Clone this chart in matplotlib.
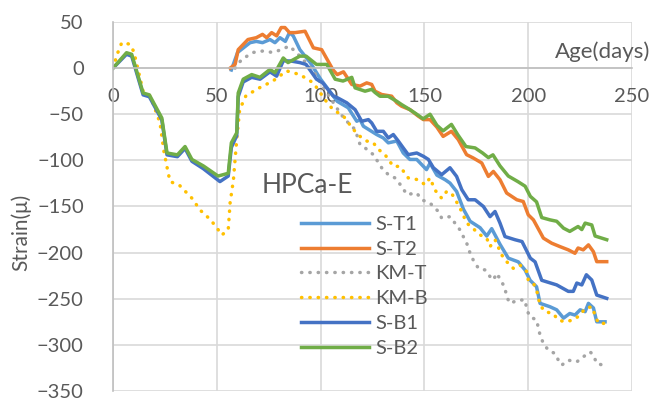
import matplotlib
matplotlib.use("Agg")
import matplotlib.pyplot as plt

plt.rcParams['font.family'] = ['Lato', 'DejaVu Sans']

# ---- data (age in days, strain in micro) ----
st1_days = [57, 60, 66, 69, 72, 75.6, 78, 80.4, 83, 85, 86.8, 90, 95, 100, 106, 108, 113.3,
            117.4, 119, 120.6, 127, 130.2, 132.6, 136.7, 139.8, 143, 146.3, 151, 152.7, 156,
            160, 162.3, 165.5, 168.8, 172, 176.8, 180, 182.4, 186.4, 190.4, 195.2, 198.5,
            200.9, 204, 205.7, 210.5, 213.7, 217, 220, 222.5, 225, 227.4, 229, 231.4, 233, 237]
st1_vals = [-2, 17, 27.6, 29, 27.6, 31, 27.6, 33, 29, 38.5, 35, 20, 6, -12, -30, -36, -43,
            -57.6, -55.8, -63, -72, -75.7, -81, -79, -92, -99, -99, -110, -103, -116,
            -121, -124.6, -133.7, -153, -166, -173, -182, -174, -191, -206, -210, -219,
            -230, -237, -255, -258.7, -262, -271, -266, -267.7, -262, -264, -255, -260, -275, -275]

st2_days = [56.4, 58.8, 60.3, 65, 69, 72, 74, 76.4, 78.8, 81, 82.8, 85, 87.7, 92.5, 96.5,
            100.5, 103, 106, 108, 111, 115, 119, 122.2, 124.6, 126.2, 129.4, 134.2, 136.7,
            139, 143, 147, 149.5, 152.7, 156, 159, 163, 166.3, 170.3, 173.5, 177.6, 180.8,
            183.2, 186.4, 189.6, 194.5, 197.6, 200, 202.5, 207.3, 211.3, 215.3, 219.3,
            222.5, 224, 226.5, 229, 231.4, 233, 237.8]
st2_vals = [0, 4, 20, 31, 33, 36.6, 33, 38.5, 35, 44, 44, 38.5, 38.5, 40, 22,
            20, 10, -2, -7, -4, -17.7, -19.5, -16, -17.7, -25, -28.6, -30.4, -37.6,
            -41.3, -45, -52, -55.8, -55.8, -64, -74, -68.5, -77.5, -93.8, -97.4, -102.8, -117.4,
            -112, -121, -135.4, -142.7, -144.6, -159, -164.5, -184.3, -189.8, -193.5, -197,
            -200.7, -195, -197, -191.6, -199, -209.8, -209.8]

kmt_days = [58.8, 62, 67.5, 72, 77, 81, 85, 90, 96.5, 101, 106, 109.3, 111.8, 116.6, 119,
            121.4, 125.4, 129.4, 132.6, 135.8, 139, 141.5, 146.3, 148.7, 152.7, 156.7, 158.3,
            162.3, 164.7, 167, 170.4, 172, 173.5, 176, 179.2, 181.6, 183.2, 184.8, 187.2,
            188.8, 189.6, 191.2, 195.2, 198.5, 199.3, 200.9, 204, 205.7, 207.3, 209.7, 212.9,
            214.5, 216.1, 219.3, 223.4, 226.5, 229.8, 231.4, 233, 236.2]
kmt_vals = [0, 9.5, 17, 18.5, 17, 20, 24, 13, -3, -20, -37, -48.5, -55.8, -66.6, -83,
            -86.5, -93.8, -108, -115.5, -119, -128, -137, -135.4, -142.7, -146.3, -155.4, -162.6,
            -161, -168, -175, -190, -200.7, -208, -217, -218.8, -226, -229.7, -222.4, -231.5,
            -238.7, -247.8, -255, -251.4, -251.4, -262, -269.6, -273, -289.5, -298.5, -305.8, -309.4,
            -316.6, -322, -316.6, -318.4, -313, -307.6, -311.2, -320.3, -322]

kmb_days = [0, 2, 4.2, 8, 10, 14.5, 17.8, 20, 22.6, 24.5, 26.6, 27.5, 32, 38, 42, 46.8, 50,
            52.4, 55.5, 56.4, 58, 59.6, 61, 64, 70.8, 77, 83.6, 90, 96.5, 103, 106, 111,
            115.8, 119, 122.2, 125.4, 127.8, 131, 135, 138.2, 142.2, 147, 150.3, 152.7, 155,
            158.3, 160.7, 163, 167, 170.4, 173.5, 176.8, 180, 181.6, 184, 187.2, 189.6, 192.8,
            196, 199.3, 200, 202.5, 204, 205.7, 208, 212, 214.4, 217.7, 221.7, 225, 227.4,
            230.6, 232.2, 233.8, 237]
kmb_vals = [0, 15, 27.6, 26, 18, -25, -30, -43, -59, -90, -114, -123, -127, -141, -154, -164, -173,
            -181, -175, -146, -121, -77, -45, -30, -21, -14, -3, -7, -16, -37, -45, -52,
            -66.6, -74, -79, -81, -88, -93.8, -106.5, -106.5, -119, -121, -126.4, -119, -132,
            -141, -133.7, -135.4, -151, -168, -174, -180.8, -184.3, -193.5, -186, -202.5, -209.8, -217,
            -213.4, -220.6, -229.7, -233.3, -240.5, -256.8, -264, -266, -273, -275, -273, -267.7, -260.4,
            -258.7, -267.7, -276.7, -276.7]

sb1_days = [0, 6.5, 9, 14.5, 17.5, 23.5, 26, 31, 34.7, 38, 43.5, 51.5, 55.5, 57, 59.6, 60.3,
            62.7, 66.8, 70.8, 75.6, 78.8, 82, 86, 90, 93, 98, 101, 106, 108, 112.6, 116.6,
            119.8, 123, 124.6, 127, 130.2, 132.6, 135, 137.4, 139.8, 142.2, 146.3, 149.5,
            151.9, 154.3, 158.3, 162.3, 165.5, 168, 171.1, 174.4, 178.4, 181.6, 184, 186.4,
            188.8, 193.6, 197, 201, 203.3, 206.5, 213.7, 219.3, 221.7, 223.4, 225.8, 228,
            230.6, 233, 237.8]
sb1_vals = [0, 15, 13, -29, -31, -56, -94, -96, -87, -101, -109, -123, -117, -86, -73, -31,
            -15, -10, -12, -4, -8.7, 8, 7.6, 6, 4, -12, -16, -30, -32, -37.6, -45,
            -57.6, -55.8, -59.4, -68.5, -68.5, -75.7, -72, -79, -86.5, -93.8, -92, -95.6,
            -99, -108, -115.5, -108, -117.4, -131.8, -142.7, -142.7, -150, -161, -155.4, -168,
            -182.6, -186, -188, -206, -210, -230, -235, -242, -242, -233, -235, -224,
            -229.7, -246, -249.6]

sb2_days = [0, 6.5, 9, 14.5, 17.5, 23.5, 26, 31, 34.7, 38, 43.5, 50.6, 55.5, 57, 59.6, 60.3,
            62.7, 66.8, 70.8, 75.6, 78, 82, 84.3, 90, 93, 98, 103, 107, 110.8, 115, 116.6,
            121.4, 124.6, 126.2, 128.6, 132.5, 136.7, 139, 143, 146.3, 149.4, 152.7, 156, 159,
            163, 166, 170, 174.4, 178, 180.8, 183, 186.4, 190.4, 195, 198.5, 201, 204,
            206.5, 210.5, 213.7, 217, 220, 224, 225.8, 227.4, 230.6, 232.2, 237.8]
sb2_vals = [0, 16.7, 15, -27, -29, -54, -92, -94, -85, -99, -106, -117, -114, -81, -70, -27,
            -12, -7, -10, -1.4, -5, 11, 6, 13, 13, 4, 4, -12, -14, -10, -21.4,
            -25, -23, -26.4, -30.5, -30.5, -36, -39.5, -45, -50, -55, -50, -62, -68,
            -61, -72, -85, -86.5, -92, -97, -94, -106, -117, -123, -128, -139, -145,
            -162, -164.5, -166, -173.5, -177, -171.7, -175, -168, -170, -182, -186]

series_names = ['S-T1', 'S-T2', 'KM-T', 'KM-B', 'S-B1', 'S-B2']
series_colors = ['#5B9BD5', '#ED7D31', '#A5A5A5', '#FFC000', '#4472C4', '#70AD47']
series_dotted = [False, False, True, True, False, False]
x_ticks = [0, 50, 100, 150, 200, 250]
y_ticks = [-350, -300, -250, -200, -150, -100, -50, 0, 50]

all_days = [st1_days, st2_days, kmt_days, kmb_days, sb1_days, sb2_days]
all_vals = [st1_vals, st2_vals, kmt_vals, kmb_vals, sb1_vals, sb2_vals]

text_gray = '#595959'
grid_gray = '#D9D9D9'

fig = plt.figure(figsize=(6.59, 4.03), dpi=100)
ax = fig.add_axes([0.1715, 0.0298, 0.7876, 0.9156])

for d, v, name, col, dotted in zip(all_days, all_vals, series_names, series_colors, series_dotted):
    if dotted:
        ax.plot(d, v, color=col, linewidth=2.5, linestyle=(0, (0.1, 2.3)),
                dash_capstyle='round', label=name)
    else:
        ax.plot(d, v, color=col, linewidth=2.5, solid_joinstyle='round', label=name)

ax.set_xlim(0, 250)
ax.set_ylim(-350, 50)
ax.set_xticks(x_ticks)
ax.set_yticks(y_ticks)
ax.grid(True, color=grid_gray, linewidth=1.2)
ax.set_axisbelow(True)

# x axis crosses at strain = 0
for s in ['top', 'right']:
    ax.spines[s].set_visible(False)
ax.spines['bottom'].set_position(('data', 0))
ax.spines['bottom'].set_color('#BFBFBF')
ax.spines['left'].set_color('#BFBFBF')
ax.spines['bottom'].set_linewidth(1.2)
ax.spines['left'].set_linewidth(1.2)

ax.tick_params(axis='x', length=0, pad=14, labelsize=14.5, labelcolor=text_gray)
ax.tick_params(axis='y', length=0, pad=21, labelsize=14.5, labelcolor=text_gray)

ax.set_ylabel('Strain(μ)', fontsize=15, color=text_gray)
ax.yaxis.set_label_coords(-0.158, 0.43)

ax.text(0.852, 0.919, 'Age(days)', transform=ax.transAxes, fontsize=16,
        color=text_gray, ha='left', va='center', clip_on=False)
ax.text(0.287, 0.558, 'HPCa-E', transform=ax.transAxes, fontsize=19,
        color=text_gray, ha='left', va='center')

ax.legend(loc='upper left', bbox_to_anchor=(0.362, 0.475), frameon=False,
          fontsize=14.5, labelcolor=text_gray, handlelength=3.4, handletextpad=0.3,
          labelspacing=0.38, borderaxespad=0, borderpad=0)

fig.savefig('out.png', dpi=100)
